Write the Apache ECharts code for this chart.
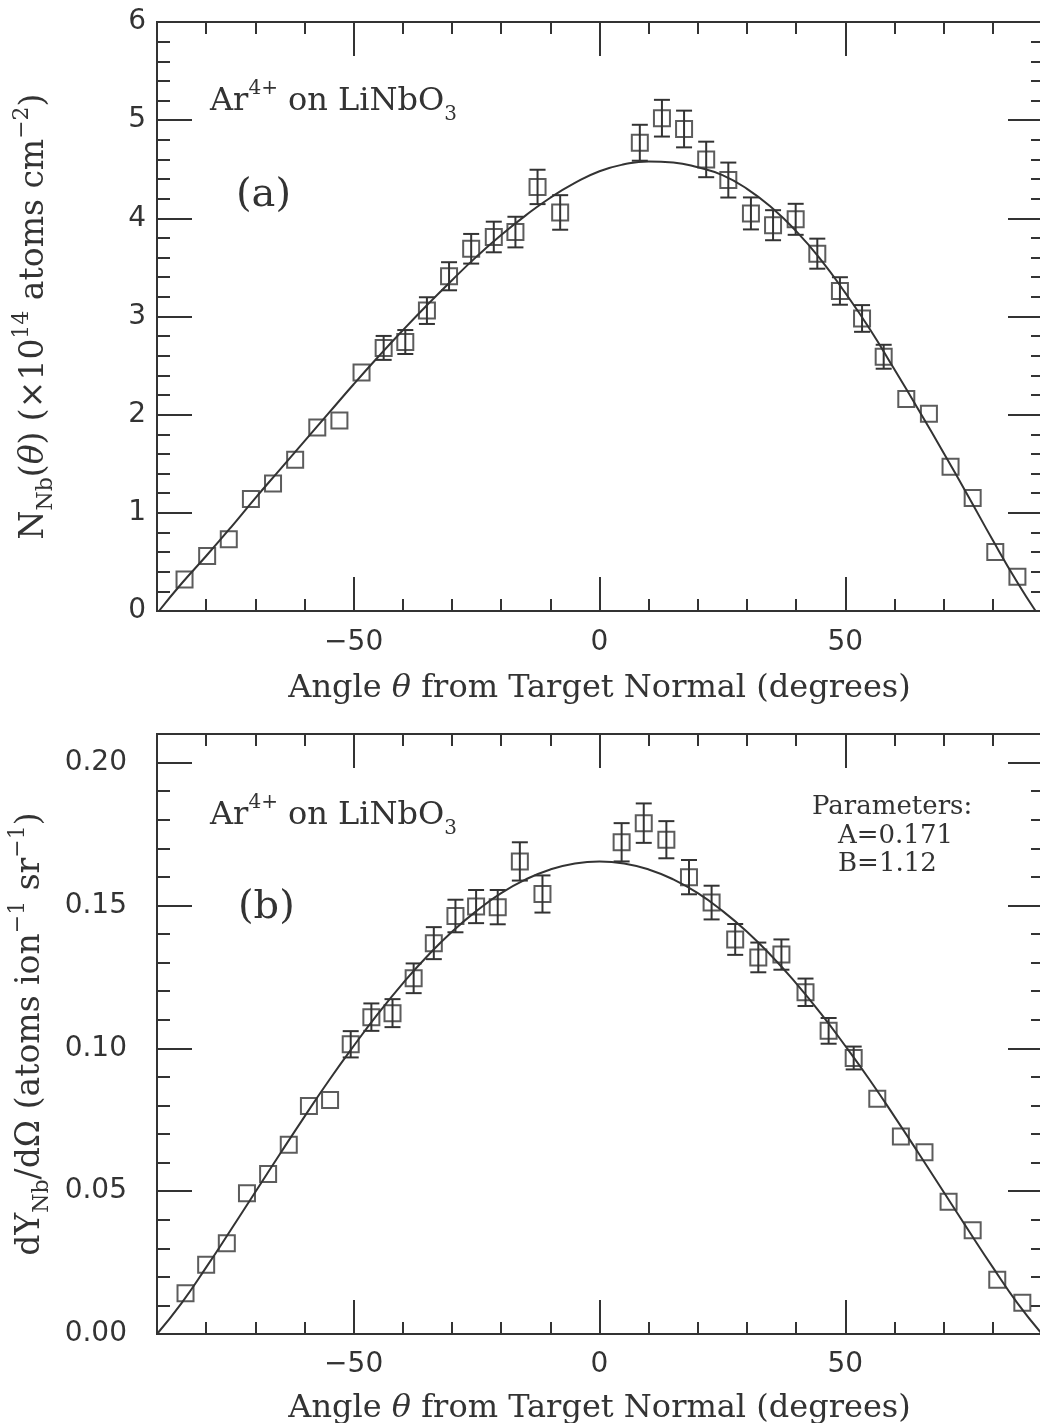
<!DOCTYPE html>
<html>
<head>
<meta charset="utf-8">
<script src="https://cdn.jsdelivr.net/npm/echarts@6/dist/echarts.min.js"></script>
<style>
html,body{margin:0;padding:0;background:#fff;}
#chart{width:1040px;height:1423px;}
</style>
</head>
<body>
<div id="chart"></div>
<script>
// ---------- Panel (a): N_Nb(theta) ----------
const angleA = [-84.4,-79.8,-75.4,-70.9,-66.4,-61.9,-57.4,-52.9,-48.4,-43.9,-39.5,-35.1,-30.6,-26.1,-21.5,-17.1,-12.6,-8.0,
                8.2,12.7,17.2,21.7,26.2,30.8,35.3,39.9,44.3,48.9,53.4,57.8,62.4,67.0,71.4,75.9,80.5,85.0];
const nNb = [0.32,0.56,0.73,1.14,1.30,1.54,1.87,1.94,2.43,2.68,2.74,3.06,3.41,3.69,3.81,3.86,4.32,4.06,
             4.77,5.02,4.91,4.60,4.39,4.05,3.93,3.99,3.64,3.26,2.98,2.59,2.16,2.01,1.47,1.15,0.60,0.35];
const nNbErr = [0,0,0,0,0,0,0,0,0,0.122,0.122,0.136,0.143,0.151,0.156,0.156,0.175,0.176,
                0.183,0.187,0.187,0.181,0.178,0.163,0.153,0.158,0.153,0.140,0.136,0.122,0,0,0,0,0,0];
const fitAngleA = [-89.6,-85,-80,-75,-70,-65,-60,-55,-50,-45,-40,-35,-30,-25,-20,-15,-10,-5,0,
                   5,10,15,20,25,30,35,40,45,50,55,60,65,70,75,80,85,88.7];
const fitA = [0,0.28,0.56,0.85,1.15,1.44,1.73,2.02,2.31,2.59,2.86,3.12,3.37,3.61,3.83,4.03,4.21,4.36,4.48,
              4.55,4.58,4.57,4.52,4.44,4.30,4.11,3.87,3.58,3.24,2.87,2.46,2.04,1.61,1.17,0.72,0.29,0];

// ---------- Panel (b): dY_Nb/dOmega ----------
const angleB = [-84.2,-80.0,-75.8,-71.7,-67.4,-63.2,-59.1,-54.8,-50.6,-46.4,-42.1,-37.8,-33.7,-29.3,-25.1,-20.7,-16.2,-11.6,
                4.5,9.0,13.6,18.2,22.8,27.6,32.3,37.0,41.9,46.6,51.7,56.5,61.3,66.1,71.0,75.9,80.9,86.0];
const dY = [0.0143,0.0242,0.0318,0.0493,0.0560,0.0662,0.0798,0.0819,0.1014,0.1109,0.1123,0.1245,0.1368,0.1463,0.1496,0.1494,0.1654,0.1540,
            0.1721,0.1788,0.1730,0.1599,0.1510,0.1381,0.1318,0.1328,0.1196,0.1061,0.0966,0.0823,0.0691,0.0636,0.0463,0.0363,0.0190,0.0109];
const dYErr = [0,0,0,0,0,0,0,0,0.0046,0.0048,0.0049,0.0052,0.0056,0.0057,0.0058,0.0060,0.0067,0.0065,
               0.0067,0.0069,0.0065,0.0060,0.0059,0.0054,0.0052,0.0053,0.0048,0.0045,0.0040,0,0,0,0,0,0,0];
const fitAngleB = [-90,-85,-80,-75,-70,-65,-60,-55,-50,-45,-40,-35,-30,-25,-20,-15,-10,-5,0,
                   5,10,15,20,25,30,35,40,45,50,55,60,65,70,75,80,85,90];
const fitB = [0,0.0108,0.0233,0.0364,0.0497,0.0630,0.0761,0.0888,0.1008,0.1122,0.1227,0.1323,0.1408,0.1481,0.1543,0.1591,0.1626,0.1647,0.1654,
              0.1647,0.1626,0.1591,0.1543,0.1481,0.1408,0.1323,0.1227,0.1122,0.1008,0.0888,0.0761,0.0630,0.0497,0.0364,0.0233,0.0108,0];

// ---------- Axis ticks / labels ----------
const xMajorTicks = [-50, 0, 50];
const yMajorTicksA = [0, 1, 2, 3, 4, 5, 6];
const yMajorTicksB = [0, 0.05, 0.10, 0.15, 0.20];
const xName = 'Angle {it|θ} from Target Normal (degrees)';
const yNameA = '{m|N}{sub|Nb}{m|(}{it|θ}{m|) (×10}{sup|14}{m| atoms cm}{sup|−2}{m|)}';
const yNameB = '{m|dY}{sub|Nb}{m|/dΩ (atoms ion}{sup|−1}{m| sr}{sup|−1}{m|)}';

const INK = '#333';
const SERIF = '"DejaVu Serif", serif';
const SANS = '"DejaVu Sans", sans-serif';
const tickLine = {color: INK, width: 2};
const fmtDeg = v => (v < 0 ? '\u2212' + Math.abs(v) : String(v));

function makeXAxes(gi, labelMargin, nameGap) {
  const base = {gridIndex: gi, type: 'value', min: -90, max: 90, splitLine: {show: false},
    axisLine: {show: true, onZero: false, lineStyle: {color: INK, width: 2}}};
  return [
    Object.assign({}, base, {position: 'bottom',
      axisTick: {show: true, inside: true, length: 34, customValues: xMajorTicks, lineStyle: tickLine},
      axisLabel: {show: true, customValues: xMajorTicks, formatter: fmtDeg, margin: labelMargin,
                  color: INK, fontFamily: SANS, fontSize: 28},
      name: xName, nameLocation: 'middle', nameGap: nameGap,
      nameTextStyle: {fontFamily: SERIF, fontSize: 32, color: INK,
        rich: {it: {fontFamily: SERIF, fontSize: 32, fontStyle: 'italic', color: INK}}}}),
    Object.assign({}, base, {position: 'bottom', interval: 10,
      axisTick: {show: true, inside: true, length: 12, lineStyle: tickLine}, axisLabel: {show: false}}),
    Object.assign({}, base, {position: 'top',
      axisTick: {show: true, inside: true, length: 34, customValues: xMajorTicks, lineStyle: tickLine},
      axisLabel: {show: false}}),
    Object.assign({}, base, {position: 'top', interval: 10,
      axisTick: {show: true, inside: true, length: 12, lineStyle: tickLine}, axisLabel: {show: false}})
  ];
}

const nameRich = {
  m: {fontFamily: SERIF, fontSize: 33, color: INK, lineHeight: 46, verticalAlign: 'middle'},
  it: {fontFamily: SERIF, fontSize: 33, fontStyle: 'italic', color: INK, lineHeight: 46, verticalAlign: 'middle'},
  sup: {fontFamily: SERIF, fontSize: 22, color: INK, lineHeight: 22, verticalAlign: 'top'},
  sub: {fontFamily: SERIF, fontSize: 22, color: INK, lineHeight: 30, verticalAlign: 'bottom'}
};

function makeYAxes(gi, max, majors, minorInterval, fmt, labelMargin, name, nameGap) {
  const base = {gridIndex: gi, type: 'value', min: 0, max: max, splitLine: {show: false},
    axisLine: {show: true, onZero: false, lineStyle: {color: INK, width: 2}}};
  return [
    Object.assign({}, base, {position: 'left',
      axisTick: {show: true, inside: true, length: 35, customValues: majors, lineStyle: tickLine},
      axisLabel: {show: true, customValues: majors, formatter: fmt, margin: labelMargin,
                  color: INK, fontFamily: SANS, fontSize: 28},
      name: name, nameLocation: 'middle', nameRotate: 90, nameGap: nameGap,
      nameTextStyle: {color: INK, rich: nameRich}}),
    Object.assign({}, base, {position: 'left', interval: minorInterval,
      axisTick: {show: true, inside: true, length: 13, lineStyle: tickLine}, axisLabel: {show: false}}),
    Object.assign({}, base, {position: 'right',
      axisTick: {show: true, inside: true, length: 34, customValues: majors, lineStyle: tickLine},
      axisLabel: {show: false}}),
    Object.assign({}, base, {position: 'right', interval: minorInterval,
      axisTick: {show: true, inside: true, length: 11, lineStyle: tickLine}, axisLabel: {show: false}})
  ];
}

const zip = (a, b) => a.map((v, i) => [v, b[i]]);
const withErr = (a, b, e) => a.map((v, i) => [v, b[i], e[i]]).filter(d => d[2] > 0);

function errRender(params, api) {
  const x = api.value(0), y = api.value(1), e = api.value(2);
  const lo = api.coord([x, y - e]);
  const hi = api.coord([x, y + e]);
  const w = 8;
  const st = {stroke: INK, lineWidth: 2};
  return {type: 'group', children: [
    {type: 'line', shape: {x1: lo[0], y1: lo[1], x2: hi[0], y2: hi[1]}, style: st},
    {type: 'line', shape: {x1: lo[0] - w, y1: lo[1], x2: lo[0] + w, y2: lo[1]}, style: st},
    {type: 'line', shape: {x1: hi[0] - w, y1: hi[1], x2: hi[0] + w, y2: hi[1]}, style: st}
  ]};
}

function panelSeries(gi, fitX, fitY, px, py, pe) {
  const xi = gi * 4, yi = gi * 4;
  return [
    {type: 'line', xAxisIndex: xi, yAxisIndex: yi, data: zip(fitX, fitY), smooth: true,
     showSymbol: false, symbol: 'none', lineStyle: {color: INK, width: 2}, silent: true, z: 2},
    {type: 'custom', xAxisIndex: xi, yAxisIndex: yi, data: withErr(px, py, pe),
     encode: {x: 0, y: 1}, renderItem: errRender, silent: true, z: 3},
    {type: 'scatter', xAxisIndex: xi, yAxisIndex: yi, data: zip(px, py), symbol: 'rect', symbolSize: 16,
     itemStyle: {color: 'rgba(0,0,0,0)', borderColor: INK, borderWidth: 2}, silent: true, z: 4}
  ];
}

const richAnn = {
  m: {fontFamily: SERIF, fontSize: 32, fill: INK, lineHeight: 46, verticalAlign: 'middle'},
  sup: {fontFamily: SERIF, fontSize: 20, fill: INK, lineHeight: 20, verticalAlign: 'top'},
  sub: {fontFamily: SERIF, fontSize: 20, fill: INK, lineHeight: 29, verticalAlign: 'bottom'}
};
const annText = '{m|Ar}{sup|4+}{m| on LiNbO}{sub|3}';

function txt(x, y, text, size, extra) {
  return {type: 'text', x: x, y: y, silent: true,
    style: Object.assign({text: text, fill: INK, font: size + 'px ' + SERIF, align: 'left', verticalAlign: 'middle'}, extra || {})};
}

const chart = echarts.init(document.getElementById('chart'), null, {renderer: 'canvas'});
chart.setOption({
  backgroundColor: '#ffffff',
  animation: false,
  grid: [
    {left: 157, top: 22, width: 885, height: 589, containLabel: false, outerBoundsMode: 'none'},
    {left: 157, top: 734, width: 885, height: 600, containLabel: false, outerBoundsMode: 'none'}
  ],
  xAxis: makeXAxes(0, 18, 62).concat(makeXAxes(1, 17, 59)),
  yAxis: makeYAxes(0, 6, yMajorTicksA, 0.2, v => String(v), 11, yNameA, 100)
    .concat(makeYAxes(1, 0.21, yMajorTicksB, 0.01, v => v.toFixed(2), 30, yNameB, 100)),
  series: panelSeries(0, fitAngleA, fitA, angleA, nNb, nNbErr)
    .concat(panelSeries(1, fitAngleB, fitB, angleB, dY, dYErr)),
  graphic: [
    {type: 'text', x: 210, y: 102, silent: true,
     style: {text: annText, rich: richAnn, fill: INK, font: '32px ' + SERIF, align: 'left', verticalAlign: 'middle'}},
    txt(236, 196, '(a)', 40),
    {type: 'text', x: 210, y: 816, silent: true,
     style: {text: annText, rich: richAnn, fill: INK, font: '32px ' + SERIF, align: 'left', verticalAlign: 'middle'}},
    txt(238, 908, '(b)', 40),
    txt(812, 807, 'Parameters:', 26),
    txt(838, 836, 'A=0.171', 26),
    txt(838, 864, 'B=1.12', 26)
  ]
});
</script>
</body>
</html>
